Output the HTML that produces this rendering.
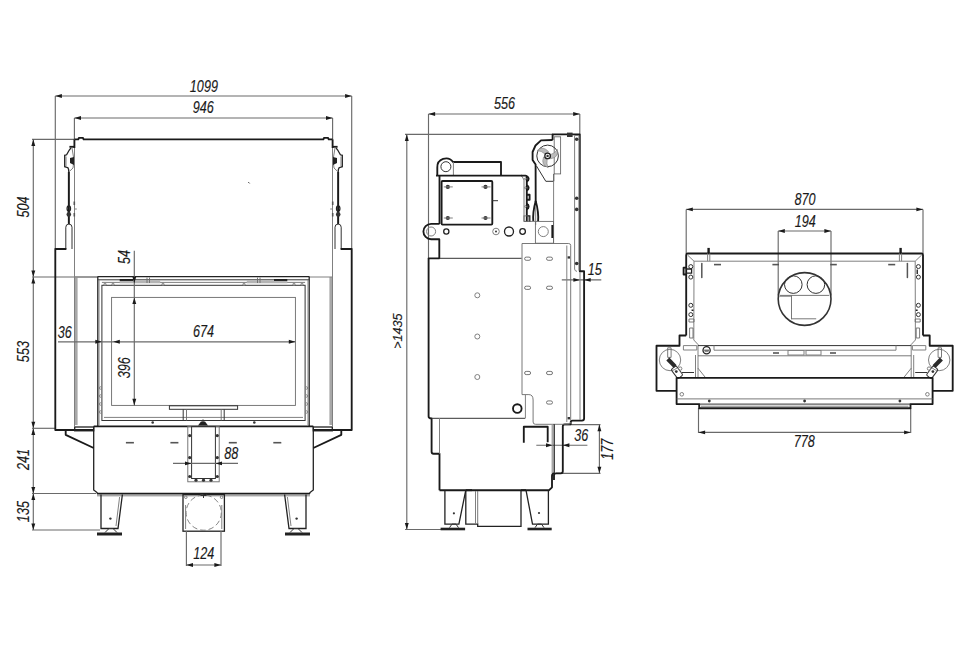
<!DOCTYPE html>
<html><head><meta charset="utf-8"><style>
*{margin:0;padding:0}
html,body{width:970px;height:647px;background:#fff;overflow:hidden}
svg{display:block}
.d{stroke:#6a6a6a;stroke-width:1.15;fill:none}
.o{stroke:#333;stroke-width:1;fill:none}
.o2{stroke:#222;stroke-width:1.3;fill:none}
.t{stroke:#1a1a1a;stroke-width:1.85;fill:none;stroke-linejoin:round}
.t3{stroke:#1a1a1a;stroke-width:2.4;fill:none}
.g{stroke:#808080;stroke-width:1;fill:none}
.g2{stroke:#6a6a6a;stroke-width:0.9;fill:none}
.gm{stroke:#555;stroke-width:1.6;fill:none}
.gs{fill:#a8a8a8;stroke:none}
.gf{fill:#b4b4b4;stroke:none}
.f{fill:#222;stroke:none}
.fd{fill:#333;stroke:none}
.bl{fill:#bbb;stroke:#777;stroke-width:0.5}
.ov{stroke:#555;stroke-width:0.8;fill:none}
.fl{stroke:#333;stroke-width:1.6;fill:none}
.vb{stroke:#555;stroke-width:1.5;fill:none;stroke-linecap:round}
.hz{stroke:#2a2a2a;stroke-width:4.2;fill:none}
.ar{fill:#1a1a1a;stroke:none}
.dash{stroke:#777;stroke-width:0.9;fill:none;stroke-dasharray:5.5 3}
.tx{font-family:"Liberation Sans",sans-serif;font-style:italic;font-size:15.8px;fill:#1a1a1a;stroke:#1a1a1a;stroke-width:0.15}
.tx2{font-size:13.6px}
</style></head>
<body><svg width="970" height="647" viewBox="0 0 970 647">
<line x1="55.3" y1="96" x2="55.3" y2="249" class="d"/>
<line x1="351.7" y1="96" x2="351.7" y2="249" class="d"/>
<line x1="55.3" y1="96" x2="351.7" y2="96" class="d"/>
<path d="M55.3 96 L61.9 94.05 L61.9 97.95 Z" class="ar"/>
<path d="M351.7 96 L345.1 94.05 L345.1 97.95 Z" class="ar"/>
<text class="tx" text-anchor="middle" transform="translate(203.9 92.1) scale(0.8 1)">1099</text>
<line x1="74.4" y1="118" x2="74.4" y2="139" class="d"/>
<line x1="332.6" y1="118" x2="332.6" y2="139" class="d"/>
<line x1="74.4" y1="118" x2="332.6" y2="118" class="d"/>
<path d="M74.4 118 L81 116.05 L81 119.95 Z" class="ar"/>
<path d="M332.6 118 L326 116.05 L326 119.95 Z" class="ar"/>
<text class="tx" text-anchor="middle" transform="translate(203.2 113.3) scale(0.8 1)">946</text>
<line x1="32" y1="139.3" x2="74" y2="139.3" class="d"/>
<line x1="33.3" y1="139.3" x2="33.3" y2="277" class="d"/>
<path d="M33.3 139.3 L31.35 145.9 L35.25 145.9 Z" class="ar"/>
<path d="M33.3 277 L31.35 270.4 L35.25 270.4 Z" class="ar"/>
<text class="tx" text-anchor="middle" transform="translate(28.6 207) rotate(-90) scale(0.8 1)">504</text>
<line x1="32" y1="277" x2="98" y2="277" class="d"/>
<line x1="33.3" y1="277" x2="33.3" y2="428.3" class="d"/>
<path d="M33.3 277 L31.35 283.6 L35.25 283.6 Z" class="ar"/>
<path d="M33.3 428.3 L31.35 421.7 L35.25 421.7 Z" class="ar"/>
<text class="tx" text-anchor="middle" transform="translate(28.6 351.6) rotate(-90) scale(0.8 1)">553</text>
<line x1="32" y1="428.3" x2="55" y2="428.3" class="d"/>
<line x1="33.3" y1="428.3" x2="33.3" y2="493.5" class="d"/>
<path d="M33.3 428.3 L31.35 434.9 L35.25 434.9 Z" class="ar"/>
<path d="M33.3 493.5 L31.35 486.9 L35.25 486.9 Z" class="ar"/>
<text class="tx" text-anchor="middle" transform="translate(28.6 459.4) rotate(-90) scale(0.8 1)">241</text>
<line x1="32" y1="493.5" x2="96" y2="493.5" class="d"/>
<line x1="33.3" y1="493.5" x2="33.3" y2="530" class="d"/>
<path d="M33.3 493.5 L31.35 500.1 L35.25 500.1 Z" class="ar"/>
<path d="M33.3 530 L31.35 523.4 L35.25 523.4 Z" class="ar"/>
<text class="tx" text-anchor="middle" transform="translate(28.6 511.6) rotate(-90) scale(0.8 1)">135</text>
<line x1="32" y1="530" x2="100" y2="530" class="d"/>
<path d="M74.4 139.3 L78.3 139.3 L78.9 137.8 L83 137.8 L83.6 139.3 L323.4 139.3 L324 137.8 L328.1 137.8 L328.7 139.3 L332.6 139.3" class="t"/>
<line x1="74.4" y1="139.3" x2="74.4" y2="148" class="t"/>
<line x1="332.6" y1="139.3" x2="332.6" y2="148" class="t"/>
<line x1="248.3" y1="182.1" x2="249.6" y2="183.4" class="o"/>
<line x1="74.5" y1="148" x2="74.5" y2="277" class="g"/>
<line x1="332.5" y1="148" x2="332.5" y2="277" class="g"/>
<path d="M69.4 146.8 L74.4 146.8" class="t"/>
<path d="M71 147.8 L69.3 150 L67.6 153 L66.6 154.8 L64.7 155.3 L64.7 166.7 L67.9 167.7 L68.6 169.5 L68.8 172 L68.8 224" class="o2"/>
<path d="M66 156.5 L66 166" class="g"/>
<path d="M72 148 L74 160 L73 168 L68.8 172" class="g"/>
<path d="M70 158 L74 157 L74 165 L70 163 Z" class="f"/>
<line x1="68.8" y1="172" x2="68.8" y2="224" class="t"/>
<ellipse cx="68.8" cy="208.6" rx="1.7" ry="2.7" class="o2"/>
<ellipse cx="68.8" cy="214.4" rx="2.3" ry="2.3" class="fd"/>
<path d="M65.8 249 L65.8 227.2 A3.1 3.1 0 0 1 72 227.2 L72 249" class="o"/>
<line x1="74.3" y1="201.5" x2="74.3" y2="205" class="gm"/>
<line x1="74.3" y1="213" x2="74.3" y2="216.5" class="gm"/>
<line x1="74.3" y1="209" x2="76.8" y2="209" class="g"/>
<path d="M66.4 249 L55.3 249 L55.3 430 L94 430" class="t"/>
<path d="M337.6 146.8 L332.6 146.8" class="t"/>
<path d="M336.0 147.8 L337.7 150 L339.4 153 L340.4 154.8 L342.3 155.3 L342.3 166.7 L339.1 167.7 L338.4 169.5 L338.2 172 L338.2 224" class="o2"/>
<path d="M341 156.5 L341 166" class="g"/>
<path d="M335 148 L333 160 L334 168 L338.2 172" class="g"/>
<path d="M337 158 L333 157 L333 165 L337 163 Z" class="f"/>
<line x1="338.2" y1="172" x2="338.2" y2="224" class="t"/>
<ellipse cx="338.2" cy="208.6" rx="1.7" ry="2.7" class="o2"/>
<ellipse cx="338.2" cy="214.4" rx="2.3" ry="2.3" class="fd"/>
<path d="M335.0 249 L335.0 227.2 A3.1 3.1 0 0 1 341.2 227.2 L341.2 249" class="o"/>
<line x1="332.7" y1="201.5" x2="332.7" y2="205" class="gm"/>
<line x1="332.7" y1="213" x2="332.7" y2="216.5" class="gm"/>
<line x1="332.7" y1="209" x2="330.2" y2="209" class="g"/>
<path d="M340.6 249 L351.7 249 L351.7 430 L313 430" class="t"/>
<rect x="74.6" y="277" width="3" height="148" class="gs"/>
<rect x="329.4" y="277" width="3" height="148" class="gs"/>
<line x1="74.5" y1="277" x2="74.5" y2="426" class="g"/>
<line x1="332.5" y1="277" x2="332.5" y2="426" class="g"/>
<line x1="74.5" y1="277" x2="98" y2="277" class="g"/>
<line x1="309" y1="277" x2="332.5" y2="277" class="g"/>
<line x1="97.8" y1="276.6" x2="97.8" y2="426" class="o2"/>
<line x1="309.2" y1="276.6" x2="309.2" y2="426" class="o2"/>
<line x1="97.8" y1="276.7" x2="309.2" y2="276.7" class="o2"/>
<line x1="97.8" y1="279.8" x2="309.2" y2="279.8" class="o"/>
<line x1="101.9" y1="282.4" x2="305.1" y2="282.4" class="g"/>
<rect x="101.9" y="285.3" width="203.2" height="135.2" class="o"/>
<line x1="99" y1="279.8" x2="99" y2="425" class="g"/>
<line x1="308" y1="279.8" x2="308" y2="425" class="g"/>
<line x1="104" y1="417.4" x2="303" y2="417.4" class="g"/>
<circle cx="100.5" cy="388" r="1.2" class="g"/>
<circle cx="306.5" cy="388" r="1.2" class="g"/>
<circle cx="100.5" cy="396" r="1.2" class="g"/>
<circle cx="306.5" cy="396" r="1.2" class="g"/>
<circle cx="100.5" cy="404" r="1.2" class="g"/>
<circle cx="306.5" cy="404" r="1.2" class="g"/>
<circle cx="100.5" cy="412" r="1.2" class="g"/>
<circle cx="306.5" cy="412" r="1.2" class="g"/>
<rect x="111.6" y="297.4" width="183.8" height="108" class="g2"/>
<rect x="119.7" y="280.3" width="40.5" height="3" class="gf"/>
<rect x="246.8" y="280.3" width="40.5" height="3" class="gf"/>
<line x1="119.7" y1="280" x2="133" y2="280" class="t"/>
<line x1="274" y1="280" x2="287.3" y2="280" class="t"/>
<line x1="147" y1="277.5" x2="147" y2="283" class="g2"/>
<line x1="149.5" y1="277.5" x2="149.5" y2="283" class="g2"/>
<line x1="257.5" y1="277.5" x2="257.5" y2="283" class="g2"/>
<line x1="260" y1="277.5" x2="260" y2="283" class="g2"/>
<circle cx="105" cy="284.3" r="1.1" class="g"/>
<circle cx="113" cy="284.3" r="1.1" class="g"/>
<circle cx="163" cy="284.3" r="1.1" class="g"/>
<circle cx="244" cy="284.3" r="1.1" class="g"/>
<circle cx="294" cy="284.3" r="1.1" class="g"/>
<circle cx="302" cy="284.3" r="1.1" class="g"/>
<rect x="169.4" y="405.8" width="68.2" height="3.5" class="o"/>
<line x1="183.2" y1="409.3" x2="183.2" y2="420.5" class="o"/>
<line x1="186.5" y1="409.3" x2="186.5" y2="420.5" class="g2"/>
<line x1="221.2" y1="409.3" x2="221.2" y2="420.5" class="g2"/>
<line x1="224.2" y1="409.3" x2="224.2" y2="420.5" class="o"/>
<path d="M198 425.5 L201 421.5 L205 421.5 L208 425.5 Z" class="f"/>
<line x1="203" y1="419.4" x2="203" y2="422" class="o"/>
<circle cx="152.7" cy="422.5" r="1.3" class="fd"/>
<circle cx="254.3" cy="422.5" r="1.3" class="fd"/>
<path d="M93.7 426.5 L93.7 490 L97 492.6 L97 493.6" class="o2"/>
<path d="M310 493.6 L310 492.6 L313.3 490 L313.3 426.5" class="o2"/>
<line x1="97" y1="493.6" x2="310" y2="493.6" class="t"/>
<line x1="93.7" y1="426.4" x2="313.3" y2="426.4" class="t"/>
<line x1="97" y1="495.8" x2="310" y2="495.8" class="g"/>
<rect x="74.7" y="427" width="19" height="3.8" class="o2"/>
<rect x="313.3" y="427" width="19" height="3.8" class="o2"/>
<path d="M65.7 430.5 L65.7 434.8 L93.7 448" class="t"/>
<path d="M341.3 430.5 L341.3 434.8 L313.3 448" class="t"/>
<line x1="125.9" y1="442.7" x2="133.9" y2="442.7" class="gm"/>
<line x1="170.4" y1="442.7" x2="178.4" y2="442.7" class="gm"/>
<line x1="228.8" y1="442.7" x2="236.8" y2="442.7" class="gm"/>
<line x1="273.3" y1="442.7" x2="281.3" y2="442.7" class="gm"/>
<rect x="187.8" y="426.5" width="31.4" height="55.3" class="g2"/>
<rect x="191.6" y="426.5" width="23.8" height="52" class="o"/>
<circle cx="189.7" cy="435.6" r="1.6" class="fd"/>
<circle cx="189.7" cy="457.6" r="1.6" class="fd"/>
<circle cx="217.3" cy="435.6" r="1.6" class="fd"/>
<circle cx="217.3" cy="457.6" r="1.6" class="fd"/>
<circle cx="189.7" cy="476.5" r="1.6" class="fd"/>
<circle cx="217.3" cy="476.5" r="1.6" class="fd"/>
<circle cx="196" cy="480.2" r="1.6" class="fd"/>
<circle cx="203.5" cy="480.2" r="1.6" class="fd"/>
<circle cx="211" cy="480.2" r="1.6" class="fd"/>
<line x1="173" y1="463.4" x2="238" y2="463.4" class="d"/>
<path d="M191.6 463.4 L185 461.45 L185 465.35 Z" class="ar"/>
<path d="M215.4 463.4 L222 461.45 L222 465.35 Z" class="ar"/>
<text class="tx" text-anchor="middle" transform="translate(231.2 458.8) scale(0.8 1)">88</text>
<path d="M101 494.5 L101 528.5 L118 528.5 L122.4 494.5" class="o2"/>
<path d="M119.6 497 L116 526" class="g"/>
<path d="M97 532.5 L122 532.5 L122 535.5 L97 535.5 Z" class="f"/>
<path d="M105 532.5 L109 528.5 L113 528.5 L117 532.5" class="o"/>
<circle cx="110.4" cy="518.6" r="1.2" class="fd"/>
<path d="M306 494.5 L306 528.5 L289 528.5 L284.6 494.5" class="o2"/>
<path d="M287.4 497 L291 526" class="g"/>
<path d="M310 532.5 L285 532.5 L285 535.5 L310 535.5 Z" class="f"/>
<path d="M302 532.5 L298 528.5 L294 528.5 L290 532.5" class="o"/>
<circle cx="296.6" cy="518.6" r="1.2" class="fd"/>
<rect x="183" y="494.5" width="41.4" height="36.7" class="o2"/>
<circle cx="203.7" cy="512.6" r="17.6" class="dash"/>
<line x1="185.6" y1="505" x2="185.6" y2="529" class="g"/>
<line x1="221.8" y1="505" x2="221.8" y2="529" class="g"/>
<circle cx="185.8" cy="497.2" r="1.3" class="g"/>
<circle cx="221.6" cy="497.2" r="1.3" class="g"/>
<path d="M200.5 495.5 L206.5 495.5" class="o"/>
<line x1="203.5" y1="495.5" x2="203.5" y2="498" class="o"/>
<line x1="186.4" y1="531" x2="186.4" y2="566" class="d"/>
<line x1="221" y1="531" x2="221" y2="566" class="d"/>
<line x1="186.4" y1="565" x2="221" y2="565" class="d"/>
<path d="M186.4 565 L193 563.05 L193 566.95 Z" class="ar"/>
<path d="M221 565 L214.4 563.05 L214.4 566.95 Z" class="ar"/>
<text class="tx" text-anchor="middle" transform="translate(203.7 559.2) scale(0.8 1)">124</text>
<line x1="134.3" y1="250.7" x2="134.3" y2="405.4" class="d"/>
<path d="M134.3 283.3 L132.35 276.7 L136.25 276.7 Z" class="ar"/>
<path d="M134.3 297.4 L132.35 304 L136.25 304 Z" class="ar"/>
<path d="M134.3 405.4 L132.35 398.8 L136.25 398.8 Z" class="ar"/>
<text class="tx" text-anchor="middle" transform="translate(130 257) rotate(-90) scale(0.8 1)">54</text>
<text class="tx" text-anchor="middle" transform="translate(130 367.8) rotate(-90) scale(0.8 1)">396</text>
<line x1="58" y1="341.8" x2="295.4" y2="341.8" class="d"/>
<path d="M101.9 341.8 L95.3 339.85 L95.3 343.75 Z" class="ar"/>
<path d="M113.2 341.8 L119.8 339.85 L119.8 343.75 Z" class="ar"/>
<path d="M295.4 341.8 L288.8 339.85 L288.8 343.75 Z" class="ar"/>
<text class="tx" text-anchor="middle" transform="translate(64.7 337.8) scale(0.8 1)">36</text>
<text class="tx" text-anchor="middle" transform="translate(203.6 337) scale(0.8 1)">674</text>
<line x1="428.5" y1="114" x2="428.5" y2="259" class="d"/>
<line x1="579.8" y1="114" x2="579.8" y2="134.3" class="d"/>
<line x1="428.5" y1="114" x2="579.8" y2="114" class="d"/>
<path d="M428.5 114 L435.1 112.05 L435.1 115.95 Z" class="ar"/>
<path d="M579.8 114 L573.2 112.05 L573.2 115.95 Z" class="ar"/>
<text class="tx" text-anchor="middle" transform="translate(504.5 109) scale(0.8 1)">556</text>
<line x1="405" y1="134.3" x2="553" y2="134.3" class="d"/>
<line x1="406.8" y1="134.3" x2="406.8" y2="529.5" class="d"/>
<path d="M406.8 134.3 L404.85 140.9 L408.75 140.9 Z" class="ar"/>
<path d="M406.8 529.5 L404.85 522.9 L408.75 522.9 Z" class="ar"/>
<line x1="405" y1="529.5" x2="445" y2="529.5" class="d"/>
<text class="tx tx2" text-anchor="middle" transform="translate(402.2 331.1) rotate(-90) scale(0.93 1)">&gt;1435</text>
<line x1="561.8" y1="279.9" x2="601.3" y2="279.9" class="d"/>
<path d="M580 279.9 L573.4 277.95 L573.4 281.85 Z" class="ar"/>
<path d="M584.1 279.9 L590.7 277.95 L590.7 281.85 Z" class="ar"/>
<text class="tx" text-anchor="middle" transform="translate(594.7 274.7) scale(0.8 1)">15</text>
<line x1="536.3" y1="445.2" x2="587.4" y2="445.2" class="d"/>
<path d="M552.6 445.2 L546 443.25 L546 447.15 Z" class="ar"/>
<path d="M562.8 445.2 L569.4 443.25 L569.4 447.15 Z" class="ar"/>
<text class="tx" text-anchor="middle" transform="translate(581.3 441.3) scale(0.8 1)">36</text>
<line x1="563" y1="424.6" x2="600.5" y2="424.6" class="d"/>
<line x1="556" y1="473.3" x2="600.5" y2="473.3" class="d"/>
<line x1="599.4" y1="424.6" x2="599.4" y2="473.3" class="d"/>
<path d="M599.4 424.6 L597.45 431.2 L601.35 431.2 Z" class="ar"/>
<path d="M599.4 473.3 L597.45 466.7 L601.35 466.7 Z" class="ar"/>
<text class="tx" text-anchor="middle" transform="translate(613.3 449.2) rotate(-90) scale(0.8 1)">177</text>
<path d="M552.6 140 L552.6 134.3 L579.8 134.3 L579.8 271.2 L584.1 271.2 L584.1 418.6 Q584.1 420.6 582 420.6 L572.5 420.6 Q570.7 420.6 570.7 422.3 L570.7 424.3 L564.8 424.3 Q562.8 424.3 562.8 426.3 L562.8 471.3 Q562.8 473.3 560.8 473.3 L556 473.3 Q554 473.3 554 475.3 L554 480" class="t"/>
<rect x="567" y="132.6" width="5.6" height="4.4" class="fd"/>
<rect x="554.2" y="136.8" width="6.4" height="37.1" class="g2"/>
<path d="M574.5 135.5 L579 135.5 L579 270.5 M574.6 135.5 L574.6 269 Q574.6 271 577 271.4" class="g"/>
<circle cx="576.7" cy="139.2" r="1.8" class="fd"/>
<circle cx="576.7" cy="198.2" r="1.8" class="fd"/>
<circle cx="576.7" cy="209.4" r="1.8" class="fd"/>
<circle cx="576.7" cy="263.5" r="1.8" class="fd"/>
<line x1="580" y1="272" x2="580" y2="420" class="g"/>
<line x1="566.8" y1="245.5" x2="566.8" y2="422" class="g"/>
<rect x="567.6" y="256.3" width="2.4" height="2.3" class="fd"/>
<rect x="567.6" y="417" width="2.4" height="2.4" class="fd"/>
<path d="M552.6 140 L541 140.4 L535.5 145.5 L532.6 152 L532.6 160 L535.6 164.5 L535.7 202" class="t"/>
<circle cx="547.6" cy="155.9" r="10.8" class="o"/>
<path d="M2.4 -1.6 Q7 -4 8.6 -8 Q11.5 -0.5 3.4 2.4 Z" transform="translate(547.6 155.9) rotate(10)" class="bl"/>
<path d="M2.4 -1.6 Q7 -4 8.6 -8 Q11.5 -0.5 3.4 2.4 Z" transform="translate(547.6 155.9) rotate(130)" class="bl"/>
<path d="M2.4 -1.6 Q7 -4 8.6 -8 Q11.5 -0.5 3.4 2.4 Z" transform="translate(547.6 155.9) rotate(250)" class="bl"/>
<circle cx="547.6" cy="155.9" r="2.8" class="o2"/>
<circle cx="547.6" cy="155.9" r="1.2" class="fd"/>
<path d="M536.5 166 L545.8 181.3 L553.8 181.3 L553.8 173.9" class="o"/>
<line x1="553.6" y1="181.3" x2="553.6" y2="243.2" class="g"/>
<path d="M535.7 201 Q532.6 212 533.3 221.4 M535.7 201 Q538.8 212 538.1 221.4" class="t"/>
<line x1="535.7" y1="206" x2="535.7" y2="225" class="g"/>
<rect x="535.4" y="221.4" width="18.1" height="21.8" class="g2"/>
<line x1="552.3" y1="225" x2="552.3" y2="238" class="t"/>
<line x1="524" y1="221.4" x2="535.4" y2="221.4" class="g"/>
<circle cx="543.3" cy="231.6" r="5" class="g"/>
<path d="M437.3 176 L437.3 167.5 A8.7 8.7 0 0 1 453 162 L501 162 L501 175.6" class="t"/>
<circle cx="445.9" cy="166.7" r="5" class="o"/>
<line x1="453.4" y1="162" x2="453.4" y2="175.6" class="g"/>
<line x1="436" y1="175.6" x2="521.6" y2="175.6" class="t"/>
<line x1="439.5" y1="175.6" x2="439.5" y2="224" class="t"/>
<rect x="441.6" y="181" width="50.7" height="43.6" rx="1" class="t"/>
<circle cx="447.8" cy="186.9" r="2.1" class="fd"/>
<line x1="443.8" y1="186.9" x2="452.8" y2="186.9" class="g"/>
<circle cx="485.5" cy="186.9" r="2.1" class="fd"/>
<line x1="481.5" y1="186.9" x2="490.5" y2="186.9" class="g"/>
<circle cx="447.8" cy="218" r="2.1" class="fd"/>
<line x1="443.8" y1="218" x2="452.8" y2="218" class="g"/>
<circle cx="485.5" cy="218" r="2.1" class="fd"/>
<line x1="481.5" y1="218" x2="490.5" y2="218" class="g"/>
<line x1="492.3" y1="200.7" x2="498" y2="200.7" class="o"/>
<path d="M521.6 175.6 L524 180 L524 221.4" class="g2"/>
<path d="M521 175.6 L525.6 175.6 Q526.8 175.6 526.8 177 L526.8 221.4" class="t"/>
<path d="M526.8 176.3 A2.6 2.6 0 0 1 526.8 181.3" class="t"/>
<circle cx="525.4" cy="178.8" r="0.9" class="g"/>
<path d="M526.8 185.3 A2.6 2.6 0 0 1 526.8 190.3" class="t"/>
<circle cx="525.4" cy="187.8" r="0.9" class="g"/>
<path d="M526.8 204.0 A2.6 2.6 0 0 1 526.8 209.0" class="t"/>
<circle cx="525.4" cy="206.5" r="0.9" class="g"/>
<path d="M526.8 194.7 L529.6 194.7 L529.6 199.7 L526.8 199.7" class="t"/>
<rect x="524" y="215.9" width="4.2" height="5.5" class="g2"/>
<path d="M527.5 215.9 L529.8 215.9 L529.8 221.4" class="o2"/>
<path d="M439.5 223.8 L431.1 223.8 A7.7 7.7 0 0 0 431.1 239.2 L439.3 239.2 L439.3 258.3 L428.6 258.3 L428.6 416.5 Q428.6 418.4 431.6 418.4 L431.6 451.7 Q431.6 453.7 433.6 453.7 L439.5 453.7 L439.5 490.2" class="t"/>
<circle cx="431.1" cy="231.5" r="4.5" class="g"/>
<circle cx="446.3" cy="231.5" r="2.6" class="o2"/>
<circle cx="496" cy="231.5" r="3.3" class="g"/>
<circle cx="496" cy="231.5" r="1" class="fd"/>
<circle cx="509" cy="231.5" r="4.5" class="o2"/>
<circle cx="522.6" cy="231.5" r="2.8" class="o2"/>
<line x1="439.3" y1="258.3" x2="521.6" y2="258.3" class="o"/>
<circle cx="477.3" cy="295.3" r="2.5" class="g"/>
<circle cx="477.3" cy="336.5" r="2.5" class="g"/>
<circle cx="477.3" cy="377" r="2.5" class="g"/>
<path d="M522 243.5 L568.7 243.5 Q570.7 243.5 570.7 245.5 L570.7 420.6 M570.7 422 Q570.7 424.3 568.5 424.3 L535.5 424.3 Q533.1 424.3 533.1 422 L533.1 400 Q533.1 394.6 528.9 394.6 L522 394.6 L522 243.5" class="g2"/>
<rect x="524.6" y="257.1" width="6" height="3.2" rx="1.6" class="ov"/>
<rect x="546.5" y="257.1" width="6" height="3.2" rx="1.6" class="ov"/>
<rect x="524.6" y="286.2" width="6" height="3.2" rx="1.6" class="ov"/>
<rect x="546.5" y="286.2" width="6" height="3.2" rx="1.6" class="ov"/>
<rect x="524.6" y="371.4" width="6" height="3.2" rx="1.6" class="ov"/>
<rect x="546.5" y="371.4" width="6" height="3.2" rx="1.6" class="ov"/>
<rect x="546.5" y="400.9" width="6" height="3.2" rx="1.6" class="ov"/>
<circle cx="517.3" cy="408.5" r="4.3" class="t"/>
<line x1="431.6" y1="418.3" x2="525.2" y2="418.3" class="o"/>
<line x1="525.4" y1="394.6" x2="525.4" y2="418.3" class="g"/>
<path d="M523.8 442.7 L523.8 426.7 L547.7 426.7 L547.7 442.3" class="t"/>
<line x1="552.2" y1="425" x2="552.2" y2="473" class="g"/>
<line x1="554.2" y1="424.3" x2="554.2" y2="473.3" class="o2"/>
<line x1="439.5" y1="418.3" x2="439.5" y2="453.7" class="g"/>
<path d="M439.5 490.2 L549.1 490.2 L552 487.3 L552 476 Q552 473.3 554 473.3" class="t"/>
<path d="M444.9 490.2 L444.9 524.1 L458.9 524.1 L465.8 490.2" class="o2"/>
<rect x="440.6" y="527.7" width="24.5" height="2.6" class="f"/>
<path d="M449.5 527.7 L452 524.1 L456 524.1 L458.5 527.7" class="o"/>
<circle cx="453.9" cy="513.3" r="1.1" class="fd"/>
<path d="M526 490.2 L532.5 524.1 L548.4 524.1 L548.4 490.2" class="o2"/>
<rect x="527.5" y="527.7" width="24.2" height="2.6" class="f"/>
<path d="M535 527.7 L537.5 524.1 L541.5 524.1 L544 527.7" class="o"/>
<circle cx="539" cy="513" r="1.1" class="fd"/>
<path d="M465.8 490.2 L465.8 524.1 L477.7 524.1 L477.7 526.3 L521 526.3 L521 490.2" class="o2"/>
<line x1="475.5" y1="491" x2="475.5" y2="524" class="g"/>
<line x1="477.7" y1="491" x2="477.7" y2="524" class="g2"/>
<line x1="465.8" y1="490.2" x2="472" y2="490.2" class="t"/>
<line x1="521" y1="490.2" x2="526" y2="490.2" class="t"/>
<line x1="686.2" y1="209.4" x2="686.2" y2="253.5" class="d"/>
<line x1="923" y1="209.4" x2="923" y2="253.5" class="d"/>
<line x1="686.2" y1="209.4" x2="923" y2="209.4" class="d"/>
<path d="M686.2 209.4 L692.8 207.45 L692.8 211.35 Z" class="ar"/>
<path d="M923 209.4 L916.4 207.45 L916.4 211.35 Z" class="ar"/>
<text class="tx" text-anchor="middle" transform="translate(805 204.8) scale(0.8 1)">870</text>
<line x1="778.2" y1="231" x2="778.2" y2="295.4" class="d"/>
<line x1="831" y1="231" x2="831" y2="295.4" class="d"/>
<line x1="778.2" y1="231" x2="831" y2="231" class="d"/>
<path d="M778.2 231 L784.8 229.05 L784.8 232.95 Z" class="ar"/>
<path d="M831 231 L824.4 229.05 L824.4 232.95 Z" class="ar"/>
<text class="tx" text-anchor="middle" transform="translate(805.2 227.2) scale(0.8 1)">194</text>
<line x1="698.5" y1="408" x2="698.5" y2="433" class="d"/>
<line x1="910.7" y1="408" x2="910.7" y2="433" class="d"/>
<line x1="698.5" y1="432.4" x2="910.7" y2="432.4" class="d"/>
<path d="M698.5 432.4 L705.1 430.45 L705.1 434.35 Z" class="ar"/>
<path d="M910.7 432.4 L904.1 430.45 L904.1 434.35 Z" class="ar"/>
<text class="tx" text-anchor="middle" transform="translate(804.3 446.9) scale(0.8 1)">778</text>
<path d="M686.2 335.5 L686.2 255 Q686.2 253.5 687.7 253.5 L921.5 253.5 Q923 253.5 923 255 L923 335.5" class="t"/>
<path d="M686.2 335.5 L679.5 335.5 L679.5 345.7 L656.5 345.7 L656.5 390.8 L676.6 390.8" class="t"/>
<path d="M687.5 255 L694 261.2 L693.8 340 L698 344.5 L698 378" class="g"/>
<path d="M695.5 355 L695.5 378" class="g"/>
<path d="M708.6 247.9 L708.6 253.5" class="t3"/>
<path d="M707.6 253.5 L707.6 261.2" class="g"/>
<path d="M709.8 253.5 L709.8 261.2" class="g"/>
<path d="M701.8 263.4 L701.8 277.4" class="vb"/>
<circle cx="690.8" cy="266.6" r="2" class="o"/>
<circle cx="690.8" cy="277.1" r="2" class="o"/>
<circle cx="690.8" cy="305.3" r="2" class="o"/>
<circle cx="690.8" cy="314.6" r="2" class="o"/>
<path d="M689 319 L694 319 L694 322 L689 322 Z" class="g2"/>
<path d="M689.6 328 L693 328 L693 338 L689.6 338 Z" class="g2"/>
<path d="M692.5 309.5 L692.5 311" class="t"/>
<circle cx="670" cy="360" r="10.7" class="g"/>
<path d="M667.7 347.8 L671.1 347.8 L671.1 357.4 L667.7 357.4 Z" class="g2"/>
<path d="M667.8 359 L675.2 366.6" class="hz"/>
<rect x="-3.2" y="-5.8" width="6.4" height="11.6" rx="1.6" transform="translate(677.0 372.3) rotate(-37)" class="o"/>
<circle cx="676.3" cy="371.6" r="1.4" class="fd"/>
<circle cx="680.2" cy="368.6" r="1.7" class="g"/>
<path d="M683.4 345.6 L696.8 345.6 L696.8 350 L683.4 350 Z" class="g"/>
<path d="M682 372.5 L694 372.5" class="o"/>
<path d="M697.8 368 L705 377" class="g"/>
<circle cx="681.8" cy="394.3" r="1.8" class="g"/>
<circle cx="709.3" cy="401" r="1.4" class="fd"/>
<path d="M714 264.6 L721 264.6" class="gm"/>
<path d="M772.4 264.6 L779 264.6" class="gm"/>
<path d="M923 335.5 L929.7 335.5 L929.7 345.7 L952.7 345.7 L952.7 390.8 L932.6 390.8" class="t"/>
<path d="M921.7 255 L915.2 261.2 L915.4 340 L911.2 344.5 L911.2 378" class="g"/>
<path d="M913.7 355 L913.7 378" class="g"/>
<path d="M900.6 247.9 L900.6 253.5" class="t3"/>
<path d="M901.6 253.5 L901.6 261.2" class="g"/>
<path d="M899.4 253.5 L899.4 261.2" class="g"/>
<path d="M907.4 263.4 L907.4 277.4" class="vb"/>
<circle cx="918.4" cy="266.6" r="2" class="o"/>
<circle cx="918.4" cy="277.1" r="2" class="o"/>
<circle cx="918.4" cy="305.3" r="2" class="o"/>
<circle cx="918.4" cy="314.6" r="2" class="o"/>
<path d="M920.2 319 L915.2 319 L915.2 322 L920.2 322 Z" class="g2"/>
<path d="M919.6 328 L916.2 328 L916.2 338 L919.6 338 Z" class="g2"/>
<path d="M916.7 309.5 L916.7 311" class="t"/>
<circle cx="939.2" cy="360" r="10.7" class="g"/>
<path d="M941.5 347.8 L938.1 347.8 L938.1 357.4 L941.5 357.4 Z" class="g2"/>
<path d="M941.4 359 L934 366.6" class="hz"/>
<rect x="-3.2" y="-5.8" width="6.4" height="11.6" rx="1.6" transform="translate(932.2 372.3) rotate(37)" class="o"/>
<circle cx="932.9" cy="371.6" r="1.4" class="fd"/>
<circle cx="929" cy="368.6" r="1.7" class="g"/>
<path d="M925.8 345.6 L912.4 345.6 L912.4 350 L925.8 350 Z" class="g"/>
<path d="M927.2 372.5 L915.2 372.5" class="o"/>
<path d="M911.4 368 L904.2 377" class="g"/>
<circle cx="927.4" cy="394.3" r="1.8" class="g"/>
<circle cx="899.9" cy="401" r="1.4" class="fd"/>
<path d="M895.2 264.6 L888.2 264.6" class="gm"/>
<path d="M836.8 264.6 L830.2 264.6" class="gm"/>
<path d="M686 267.6 L683.6 267.6 L683.6 274.5 L686 274.5" class="t"/>
<path d="M686 269 L691.6 269 L691.6 273.2 L686 273.2" class="o2"/>
<rect x="916.5" y="269.5" width="1.5" height="4.5" class="fd"/>
<line x1="694" y1="261.2" x2="915.2" y2="261.2" class="g"/>
<circle cx="804.6" cy="299" r="26.4" class="fl"/>
<circle cx="793.3" cy="284.6" r="8.8" class="o"/>
<circle cx="815.9" cy="284.6" r="8.8" class="o"/>
<line x1="780" y1="295.4" x2="829.2" y2="295.4" class="g2"/>
<line x1="779.5" y1="296.2" x2="791.5" y2="296.2" class="g2"/>
<line x1="791.5" y1="295.4" x2="791.5" y2="319.3" class="g2"/>
<line x1="791.5" y1="318.8" x2="816.2" y2="318.8" class="g2"/>
<line x1="698" y1="345.6" x2="911.2" y2="345.6" class="o"/>
<line x1="698" y1="355.8" x2="911.2" y2="355.8" class="g2"/>
<path d="M714 345.6 L714 350.2 L896 350.2 L896 345.6" class="g"/>
<circle cx="706.6" cy="350.2" r="3.6" class="o2"/>
<line x1="704.2" y1="350.2" x2="709" y2="350.2" class="o"/>
<line x1="704.6" y1="351.6" x2="708.6" y2="351.6" class="g"/>
<line x1="773" y1="353" x2="779" y2="353" class="gm"/>
<line x1="830" y1="353" x2="836" y2="353" class="gm"/>
<rect x="788" y="350.5" width="16" height="4.5" class="g"/>
<rect x="806" y="350.5" width="15" height="4.5" class="g"/>
<path d="M676.6 390.8 L676.6 377.8 L932.6 377.8 L932.6 404.1 L910.5 404.1 L910.5 408.2 L699.2 408.2 L699.2 404.1 L676.6 404.1 Z" class="t"/>
<line x1="676.6" y1="398.9" x2="932.6" y2="398.9" class="g2"/>
<line x1="699.2" y1="404.1" x2="910.5" y2="404.1" class="o"/>
<line x1="701" y1="406.2" x2="908.5" y2="406.2" class="g"/>
<circle cx="804.6" cy="401" r="1.4" class="fd"/>
</svg></body></html>
